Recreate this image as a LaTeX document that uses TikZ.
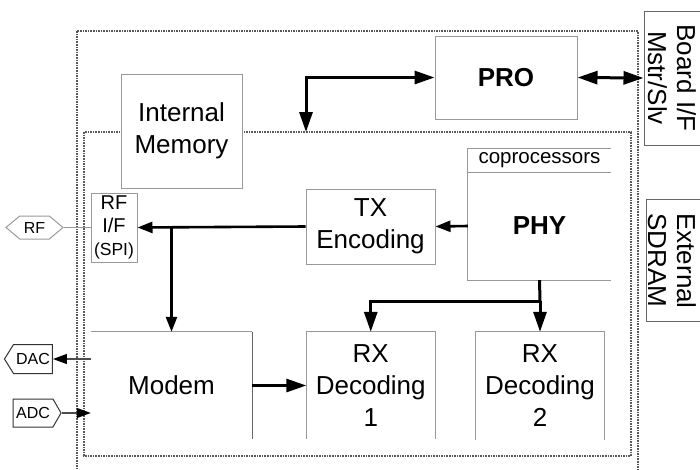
\documentclass[tikz,border=0pt]{standalone}
\usepackage{fontspec}
\setmainfont{Liberation Sans}
\usepackage{xcolor}
\usepackage{tikz}
\usetikzlibrary{arrows.meta, positioning, shapes.symbols}

\definecolor{boxgray}{gray}{0.6}
\definecolor{darkedge}{gray}{0.4}
\definecolor{framegray}{gray}{0.35}

\tikzset{
    blk/.style={fill=white, inner sep=0pt, align=center, font=\fontsize{26}{32}\selectfont},
    box/.style={blk, draw=boxgray, line width=1pt},
    extbox/.style={blk, draw=darkedge, line width=1pt},
    edge/.style={draw=boxgray, line width=1pt},
    frame/.style={draw=framegray, line width=1.1pt, dash pattern=on 1.6pt off 1pt},
    bus/.style={line width=3pt, ->},
    sig/.style={line width=2.6pt, -{Triangle[length=15pt,width=11pt]}},
    pinline/.style={draw=black!70, line width=1.3pt, -{Triangle[length=14pt,width=10pt,color=black]}},
    pin/.style={signal, draw=black!80, line width=1pt, inner sep=0pt, font=\fontsize{16}{19}\selectfont},
}

\begin{document}
\begin{tikzpicture}[x=1pt, y=-1pt, >={Triangle[length=20pt,width=13pt]}]
    \useasboundingbox (0,0) rectangle (700,469);
    \clip (0,0) rectangle (700,469);

    % dotted chip and core frames
    \draw[frame] (77,31) rectangle (638,485);
    \draw[frame] (84,132) rectangle (631,456);

    % blocks
    \node[box, minimum width=121pt, minimum height=114pt] (mem) at (181.5,131) {Internal\\Memory};
    \node[box, font=\fontsize{26}{32}\selectfont\bfseries, minimum width=142pt, minimum height=83pt] (pro) at (506,77.5) {PRO};
    \node[box, minimum width=46pt, minimum height=69pt, font=\fontsize{20}{23}\selectfont] (rfif) at (114,227.5) {RF\\I/F\\{\fontsize{17.5}{20}\selectfont (SPI)}};
    \node[box, minimum width=129pt, minimum height=75pt] (tx) at (370.5,226.5) {TX\\Encoding};

    % PHY with coprocessors strip, open on the right
    \node[blk, minimum width=143pt, minimum height=23pt, font=\fontsize{20.5}{24}\selectfont] (cop) at (539.5,160.5) {coprocessors};
    \node[blk, font=\fontsize{26}{32}\selectfont\bfseries, minimum width=143pt, minimum height=108pt] (phy) at (539.5,226) {PHY};
    \draw[edge] (cop.north east) -- (cop.north west) -- (phy.south west) -- (phy.south east);
    \draw[edge] (cop.south west) -- (cop.south east);

    % bottom row, open at the bottom
    \node[blk, minimum width=161pt, minimum height=107pt] (modem) at (171.5,385.5) {Modem};
    \draw[edge] (modem.north west) -- (modem.north east);
    \draw[draw=darkedge, line width=1pt] (modem.north east) -- (modem.south east);
    \node[blk, minimum width=128.5pt, minimum height=107pt] (rx1) at (370.75,385.5) {RX\\Decoding\\1};
    \draw[edge] (rx1.south west) -- (rx1.north west) -- (rx1.north east) -- (rx1.south east);
    \node[blk, minimum width=128pt, minimum height=108pt] (rx2) at (540,386) {RX\\Decoding\\2};
    \draw[edge] (rx2.south west) -- (rx2.north west) -- (rx2.north east) -- (rx2.south east);

    % off-chip interfaces
    \node[extbox, minimum width=66pt, minimum height=134pt] (boardbox) at (677,78) {};
    \node[inner sep=0pt, rotate=-90, align=center, font=\fontsize{26}{29}\selectfont] (board) at (672,78) {Board I/F\\Mstr/Slv};
    \node[extbox, minimum width=64pt, minimum height=122pt] (sdrambox) at (678,260) {};
    \node[inner sep=0pt, rotate=-90, align=left, font=\fontsize{26}{29}\selectfont] (sdram) at (672,261) {External\\SDRAM};

    % pins
    \node[pin, draw=boxgray, signal to=west and east, signal pointer angle=80, minimum width=57pt, minimum height=23pt] (rfpin) at (34.5,227.5) {RF};
    \node[pin, signal to=west, signal pointer angle=116, minimum width=48pt, minimum height=29pt] (dac) at (33,359) {DAC};
    \node[pin, signal to=east, signal pointer angle=120, minimum width=48pt, minimum height=28pt] (adc) at (33,413) {ADC};

    % buses
    \coordinate (core) at (306,132);
    \draw[bus, <->] (core) |- (pro.west);
    \draw[bus, <->] (pro.east) -- (boardbox.west);
    \draw[sig] (phy.west) -- (tx.east);
    \coordinate (split) at (modem.north |- tx.west);
    \draw[sig] (tx.west) -- (rfif.east);
    \draw[sig] (split) -- (modem.north);
    \draw[bus] (modem.east) -- (rx1.west);
    \coordinate (fork) at (540,301);
    \draw[line width=3pt] (phy.south) -- (fork);
    \draw[bus] (fork) -- (rx2.north);
    \draw[bus] (fork) -| (rx1.north);

    % pin wires
    \draw[edge] (rfpin.east) -- (rfif.west);
    \draw[pinline] (dac.east -| modem.west) -- (dac.east);
    \draw[pinline] (adc.east) -- (adc.east -| modem.west);
\end{tikzpicture}
\end{document}
